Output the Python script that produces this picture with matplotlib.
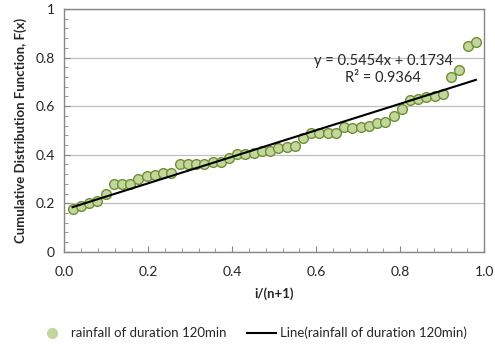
import matplotlib
matplotlib.use('Agg')
import matplotlib.pyplot as plt
from matplotlib.ticker import MultipleLocator, FormatStrFormatter
from matplotlib.lines import Line2D
import numpy as np

plt.rcParams['font.family'] = ['Lato', 'DejaVu Sans']

# plotting position i/(n+1), n = 50
n = 50
rank = np.arange(1, n + 1)

# F(x) values
fx = [0.175, 0.189, 0.203, 0.209, 0.239, 0.278, 0.278, 0.280, 0.300, 0.313,
      0.316, 0.326, 0.326, 0.360, 0.363, 0.363, 0.363, 0.369, 0.369, 0.386,
      0.402, 0.402, 0.406, 0.416, 0.416, 0.426, 0.433, 0.437, 0.470, 0.488,
      0.491, 0.491, 0.491, 0.512, 0.509, 0.516, 0.519, 0.532, 0.536, 0.561,
      0.587, 0.626, 0.630, 0.637, 0.640, 0.649, 0.718, 0.749, 0.846, 0.864]

# linear trendline shown on the chart
slope = 0.5454
intercept = 0.1734
r2 = 0.9364

series_name = 'rainfall of duration 120min'

x = rank / (n + 1)
fx = np.array(fx)

fig = plt.figure(figsize=(4.95, 3.45), dpi=100)
ax = fig.add_axes([0.130, 0.270, 0.848, 0.704])

ax.grid(axis='y', color='#bfbfbf', linewidth=0.9)
ax.set_axisbelow(True)

ax.plot(x, fx, 'o', ms=7, mfc='#c3d69b', mec='#6f8f35', mew=1.0, zorder=3)
xl = np.array([x[0], x[-1]])
ax.plot(xl, slope * xl + intercept, color='black', lw=1.5, zorder=4)

ax.text(0.76, 0.785, 'y = %.4fx + %.4f' % (slope, intercept), ha='center',
        va='center', fontsize=10.5, color='#262626')
ax.text(0.76, 0.715, 'R² = %.4f' % r2, ha='center', va='center',
        fontsize=10.5, color='#262626')

ax.set_xlim(0, 1)
ax.set_ylim(0, 1)
ax.xaxis.set_major_locator(MultipleLocator(0.2))
ax.xaxis.set_minor_locator(MultipleLocator(0.04))
ax.yaxis.set_major_locator(MultipleLocator(0.2))
ax.yaxis.set_minor_locator(MultipleLocator(0.04))
ax.xaxis.set_major_formatter(FormatStrFormatter('%.1f'))
ax.set_yticks([0, 0.2, 0.4, 0.6, 0.8, 1.0])
ax.set_yticklabels(['0', '0.2', '0.4', '0.6', '0.8', '1'])

ax.tick_params(which='both', direction='in', color='#868686', labelsize=10,
               labelcolor='#262626')
ax.tick_params(which='major', length=4.5)
ax.tick_params(axis='x', which='major', pad=10)
ax.tick_params(axis='y', which='major', pad=7)
ax.tick_params(which='minor', length=3)
for s in ax.spines.values():
    s.set_color('#868686')
    s.set_linewidth(1.0)

ax.set_xlabel('i/(n+1)', fontsize=9.5, fontweight='bold', color='#262626',
              labelpad=7)
ax.set_ylabel('Cumulative Distribution Function, F(x)', fontsize=9.5,
              fontweight='bold', color='#262626', labelpad=6)

handles = [Line2D([], [], ls='none', marker='o', ms=7, mfc='#c3d69b',
                  mec='#c3d69b'),
           Line2D([], [], color='black', lw=1.5)]
fig.legend(handles, [series_name, 'Line(%s)' % series_name],
           loc='center', bbox_to_anchor=(0.51, 0.035), ncol=2, frameon=False,
           fontsize=9.5, handlelength=2.2, columnspacing=1.6, handletextpad=0.3,
           labelcolor='#262626')

fig.savefig('out.png', dpi=100)
